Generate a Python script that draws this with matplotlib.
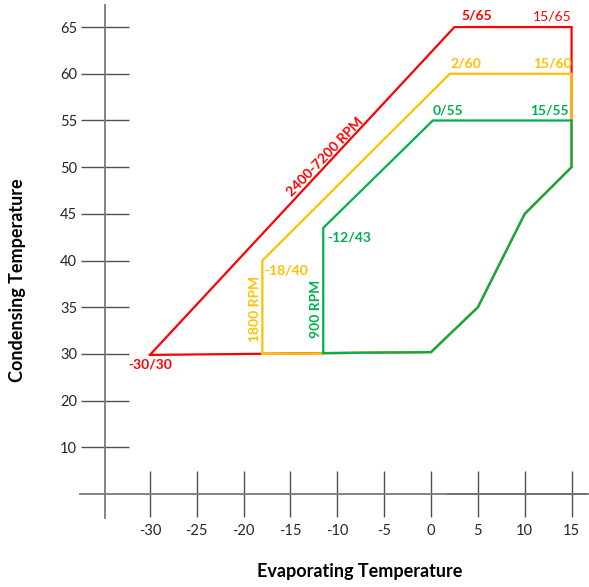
import numpy as np
import matplotlib
matplotlib.use("Agg")
import matplotlib.pyplot as plt

# ---- data ----
red_x = [-30, 2.5, 15, 15, 10, 5, 0, -30]
red_y = [29.8, 65, 65, 50, 45, 35, 30.2, 29.8]
yel_x = [-18, -18, 2, 15, 15, 10, 5, 0, -18]
yel_y = [30.0, 40, 60, 60, 50, 45, 35, 30.2, 30.0]
grn_x = [-11.5, -11.5, 0.2, 15, 15, 10, 5, 0, -11.5]
grn_y = [30.1, 43.5, 55, 55, 50, 45, 35, 30.2, 30.1]

x_ticks = [-30, -25, -20, -15, -10, -5, 0, 5, 10, 15]
y_ticks = [10, 20, 30, 35, 40, 45, 50, 55, 60, 65]

RED = "#FF0000"
YEL = "#FFC000"
GRN = "#00B050"

plt.rcParams['font.family'] = ['Lato', 'DejaVu Sans']

def fwd(v):
    v = np.asarray(v, dtype=float)
    return np.where(v <= 30, v / 10.0, 3 + (v - 30) / 5.0)

def inv(p):
    p = np.asarray(p, dtype=float)
    return np.where(p <= 3, p * 10.0, 30 + (p - 3) * 5.0)

fig = plt.figure(figsize=(5.89, 5.87), dpi=100)
ax = fig.add_axes([0, 0, 1, 1])
ax.set_yscale('function', functions=(fwd, inv))
ax.set_xlim(-46.0, 16.86)
ax.set_ylim(float(inv(-1.99)), float(inv(10.58)))
ax.patch.set_alpha(0)

lw = 1.6
ax.plot(red_x, red_y, color=RED, lw=lw, solid_joinstyle='miter', zorder=3)
ax.plot(yel_x, yel_y, color=YEL, lw=lw, solid_joinstyle='miter', zorder=4)
ax.plot(grn_x, grn_y, color=GRN, lw=lw, solid_joinstyle='miter', zorder=5)

# spines as crossing axes
for s in ['top', 'right']:
    ax.spines[s].set_visible(False)
ax.spines['left'].set_position(('data', -34.8))
ax.spines['bottom'].set_position(('data', 0))
ax.spines['left'].set_bounds(float(inv(-0.514)), float(inv(10.47)))
ax.spines['bottom'].set_bounds(-37.46, 16.76)
for s in ['left', 'bottom']:
    ax.spines[s].set_color('#7a7a7a')
    ax.spines[s].set_linewidth(1.3)
ax.hlines(0, 1.7, 16.76, color='#222222', lw=1.3, zorder=2)

ax.set_xticks(x_ticks)
ax.set_xticklabels([str(v) for v in x_ticks])
ax.set_yticks(y_ticks)
ax.set_yticklabels([str(v) for v in y_ticks])
ax.minorticks_off()
ax.tick_params(axis='y', direction='inout', length=34, width=1.0, color='#505050',
               pad=3, labelsize=10.5, labelcolor='#262626')
ax.tick_params(axis='x', direction='inout', length=33, width=1.0, color='#505050',
               pad=5, labelsize=10.5, labelcolor='#262626')

fig.text(18 / 589, 1 - 280 / 587, 'Condensing Temperature', rotation=90,
         ha='center', va='center', fontsize=13, fontweight='bold', color='black')
fig.text(360 / 589, 1 - 571 / 587, 'Evaporating Temperature',
         ha='center', va='center', fontsize=13, fontweight='bold', color='black')

fs = 10
def lab(text, xy, off, color, ha='center', va='center', weight='bold', rot=0):
    ax.annotate(text, xy=xy, xytext=off, textcoords='offset points',
                ha=ha, va=va, color=color, fontsize=fs, fontweight=weight,
                rotation=rot, zorder=6)

lab('-30/30', (-30, 30), (0, -7.5), RED)
lab('5/65', (2.5, 65), (16, 8), RED)
lab('15/65', (15, 65), (0, 7.5), RED, ha='right', weight='normal')
lab('2/60', (2, 60), (11.5, 7.5), YEL)
lab('15/60', (15, 60), (0, 7.5), YEL, ha='right')
lab('0/55', (0.2, 55), (10.5, 7), GRN)
lab('15/55', (15, 55), (-2, 7), GRN, ha='right')
lab('-18/40', (-18, 40), (1.5, -7), YEL, ha='left')
lab('-12/43', (-11.5, 43.5), (3, -7), GRN, ha='left')
lab('1800 RPM', (-18, 35), (-5, -1), YEL, rot=90)
lab('900 RPM', (-11.5, 35), (-5, -1), GRN, rot=90)
lab('2400-7200 RPM', (-11.3, 51.1), (0, 0), RED, rot=46)

fig.savefig('out.png', dpi=100)
